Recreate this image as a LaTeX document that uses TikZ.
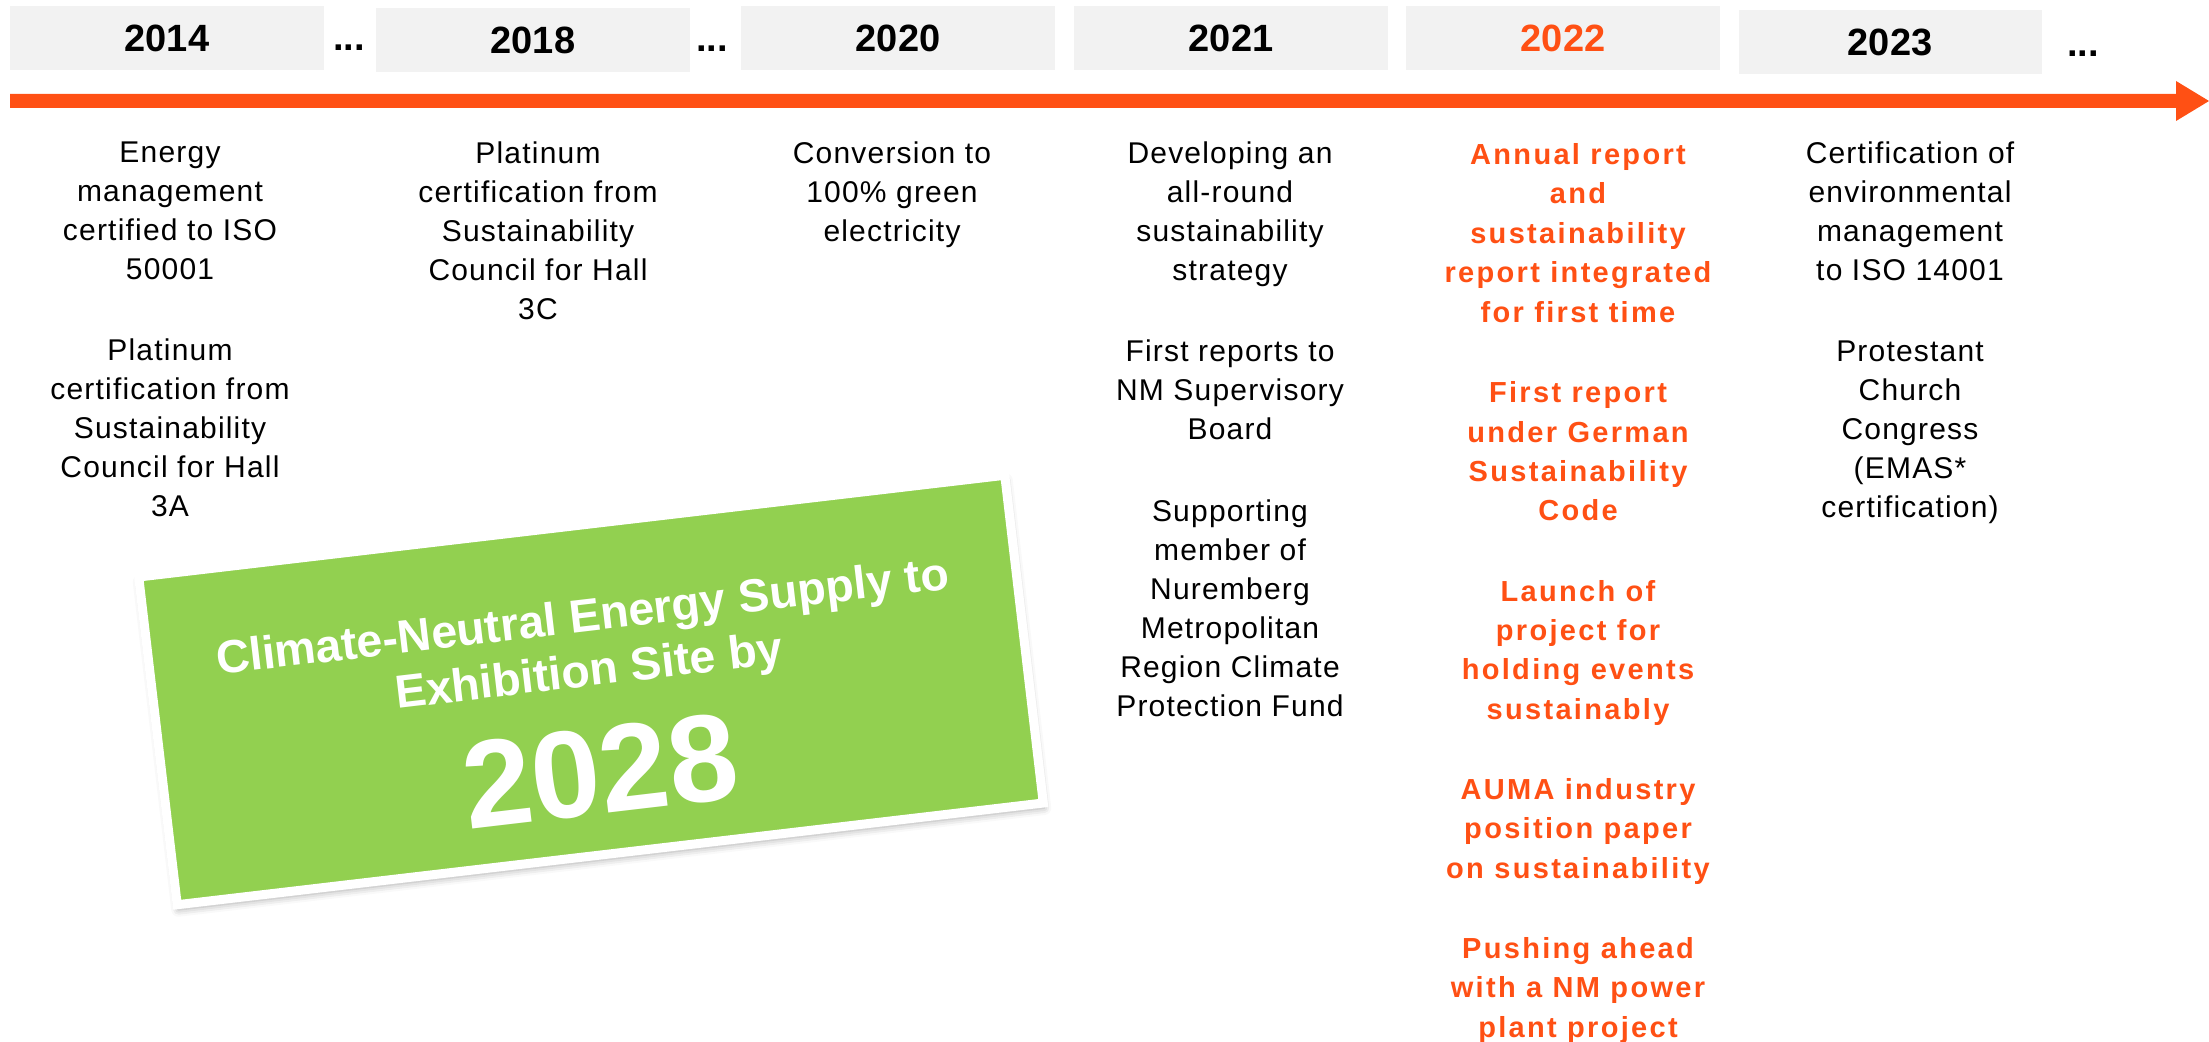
\documentclass[tikz,border=0pt]{standalone}
\usepackage{fontspec}
\setmainfont{Liberation Sans}
\usetikzlibrary{shadows.blur}
\definecolor{tlorange}{HTML}{FF5014}
\definecolor{tlgreen}{HTML}{92D050}
\definecolor{tlgray}{HTML}{F2F2F2}
\begin{document}
\begin{tikzpicture}[x=0.5pt,y=-0.5pt,
  yearbox/.style={fill=tlgray, minimum width=157pt, minimum height=32pt, inner sep=0pt, font=\fontsize{19}{22}\selectfont\bfseries},
  dotsnode/.style={font=\fontsize{19}{22}\selectfont\bfseries, inner sep=0pt, anchor=base},
  body/.style={align=center, anchor=north, inner sep=0pt, font=\fontsize{15}{19.5}\selectfont\addfontfeatures{LetterSpace=4}},
  hl/.style={align=center, anchor=north, inner sep=0pt, text=tlorange, font=\fontsize{14.5}{19.7}\selectfont\bfseries\addfontfeatures{LetterSpace=8}},
  goalbox/.style={draw=white, line width=4.5pt, fill=tlgreen, minimum width=436pt, minimum height=165pt, rotate=6.7,
    blur shadow={shadow xshift=0.5pt, shadow yshift=-2.5pt, shadow blur radius=3.5pt, shadow opacity=35}},
  goaltext/.style={text=white, font=\bfseries, rotate=6.7, inner sep=0pt, align=center}
]
\useasboundingbox (0,0) rectangle (2209,1042);

% year boxes
\node[yearbox] (y2014) at (167,38) {2014};
\node[dotsnode] (d1) at (349,51) {...};
\node[yearbox] (y2018) at (533,40) {2018};
\node[dotsnode] (d2) at (712,52) {...};
\node[yearbox] (y2020) at (898,38) {2020};
\node[yearbox] (y2021) at (1231,38) {2021};
\node[yearbox, text=tlorange] (y2022) at (1563,38) {2022};
\node[yearbox, minimum width=151.5pt] (y2023) at (1890,42) {2023};
\node[dotsnode] (d3) at (2083,57) {...};

% timeline arrow
\fill[tlorange] (10,94) -- (2176,94) -- (2176,81) -- (2209,101) -- (2176,121) -- (2176,108) -- (10,108) -- cycle;

% column texts
\node[body] (t2014) at (170,141) {Energy\\management\\certified to ISO\\50001\\[21.4pt]Platinum\\certification from\\Sustainability\\Council for Hall\\3A};
\node[body] (t2018) at (538,141) {Platinum\\certification from\\Sustainability\\Council for Hall\\3C};
\node[body] (t2020) at (892,141) {Conversion to\\100\% green\\electricity};
\node[body] (t2021) at (1230,141) {Developing an\\all-round\\sustainability\\strategy\\[21.4pt]First reports to\\NM Supervisory\\Board\\[21.4pt]Supporting\\member of\\Nuremberg\\Metropolitan\\Region Climate\\Protection Fund};
\node[hl] (t2022) at (1578,143) {Annual report\\and\\sustainability\\report integrated\\for first time\\[20.6pt]First report\\under German\\Sustainability\\Code\\[20.4pt]Launch of\\project for\\holding events\\sustainably\\[20.4pt]AUMA industry\\position paper\\on sustainability\\[20.4pt]Pushing ahead\\with a NM power\\plant project};
\node[body] (t2023) at (1910,141) {Certification of\\environmental\\management\\to ISO 14001\\[21.4pt]Protestant\\Church\\Congress\\(EMAS*\\certification)};

% goal box
\node[goalbox] (goal) at (591,690) {};
\node[goaltext, font=\fontsize{23.2}{27.3}\selectfont\bfseries] (goaltxt) at (586,647) {Climate-Neutral Energy Supply to\\Exhibition Site by};
\node[goaltext, font=\fontsize{62}{62}\selectfont\bfseries] (goalyear) at (600,771) {2028};
\end{tikzpicture}
\end{document}
